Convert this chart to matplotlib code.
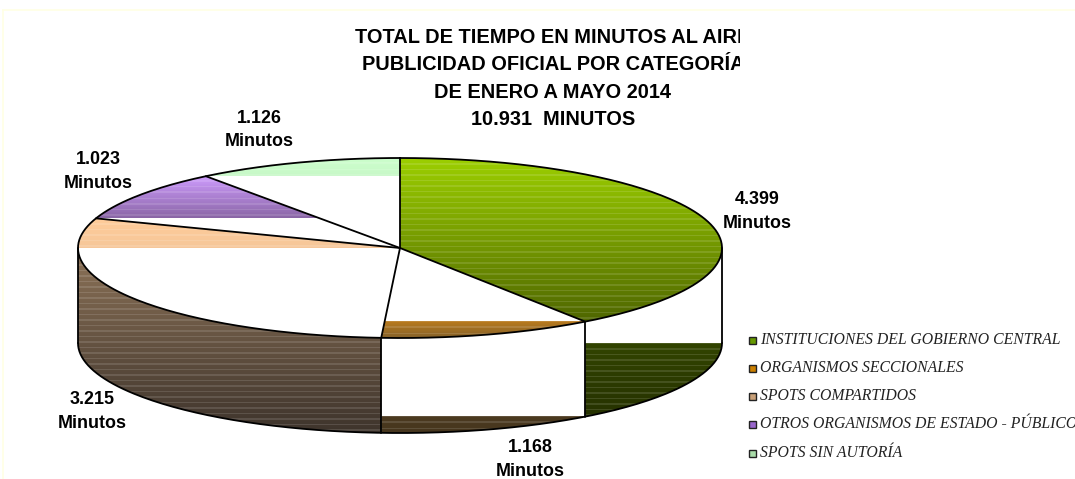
"""Torta 3D de minutos al aire por categoría (enero a mayo 2014)."""

import matplotlib
matplotlib.use("Agg")
import matplotlib.pyplot as plt
from matplotlib.colors import to_rgb
from matplotlib.patches import PathPatch, Rectangle
from matplotlib.path import Path
import numpy as np

plt.rcParams['font.family'] = ['Liberation Sans', 'DejaVu Sans']

# ── datos ──────────────────────────────────────────────────────────────────
categorias = [
    "INSTITUCIONES DEL GOBIERNO CENTRAL",
    "ORGANISMOS SECCIONALES",
    "SPOTS COMPARTIDOS",
    "OTROS ORGANISMOS DE ESTADO - PÚBLICOS",
    "SPOTS SIN AUTORÍA",
]
minutos = [4399, 1168, 3215, 1023, 1126]
etiquetas = ["4.399", "1.168", "3.215", "1.023", "1.126"]
titulo = [
    "TOTAL DE TIEMPO EN MINUTOS AL AIRE",
    "PUBLICIDAD OFICIAL POR CATEGORÍA",
    "DE ENERO A MAYO 2014",
    "10.931  MINUTOS",
]

# ── estilo ─────────────────────────────────────────────────────────────────
CX, CY = 400.0, 248.0
RX, RY = 322.0, 90.0
DEPTH = 95.0

top_cols = [("#9ccf00", "#4f6600"), ("#b87a1e", "#85622a"), ("#ffcc99", "#f6c79a"),
            ("#cf9dff", "#8a66a6"), ("#ccffcc", "#c8f8c8")]
side_cols = [("#324400", "#263200"), ("#4c3a20", "#46361e"), ("#8d7358", "#3e342c"),
             None, None]
legend_cols = ["#669900", "#cc8000", "#c8a078", "#9966cc", "#aaddaa"]
label_pos = [(757, 211), (530, 459), (92, 411), (98, 171), (259, 130)]
legend_y = [340, 368, 396, 424, 453]
title_y = [37, 64, 92, 119]


def arc(a0, a1, dy=0.0, n=120):
    # ángulos en grados, sentido horario desde arriba
    t = np.radians(np.linspace(a0, a1, n))
    return np.column_stack([CX + RX * np.sin(t), CY - RY * np.cos(t) + dy])


def stripes(ax, path, col0, col1, y0, y1):
    """Degradado vertical con rayas horizontales, recortado al path."""
    rows = max(int(round(y1 - y0)), 1)
    c0, c1 = np.array(to_rgb(col0)), np.array(to_rgb(col1))
    f = np.linspace(0, 1, rows)[:, None]
    img = c0 * (1 - f) + c1 * f
    r = np.arange(rows)
    light = np.isin(r * r % 11, (0, 3))[:, None]
    img = np.where(light, img + (1 - img) * 0.12, img)[:, None, :]
    im = ax.imshow(img, extent=(0, 1075, y1, y0), aspect="auto",
                   interpolation="nearest", zorder=2)
    im.set_clip_path(PathPatch(path, transform=ax.transData))


def closed(pts):
    return Path(np.vstack([pts, pts[:1]]))


def main():
    fig = plt.figure(figsize=(10.75, 4.79), dpi=100)
    ax = fig.add_axes([0, 0, 1, 1])
    ax.axis("off")

    # marco amarillo pálido
    ax.plot([3, 1075], [10, 10], color="#ffffe4", lw=1.2, zorder=1)
    ax.plot([3, 3], [10, 479], color="#ffffe4", lw=1.2, zorder=1)

    total = sum(minutos)
    edges = np.concatenate([[0], np.cumsum(minutos) / total * 360.0])

    # caras laterales visibles (entre 90° y 270°)
    for i, col in enumerate(side_cols):
        if col is None:
            continue
        a0, a1 = max(edges[i], 90.0), min(edges[i + 1], 270.0)
        upper, lower = arc(a0, a1), arc(a0, a1, DEPTH)
        path = closed(np.vstack([upper, lower[::-1]]))
        y0 = upper[:, 1].min() if i == 2 else lower[:, 1].min()
        stripes(ax, path, col[0], col[1], y0, lower[:, 1].max())

    # caras superiores
    for i, col in enumerate(top_cols):
        rim = arc(edges[i], edges[i + 1])
        path = closed(np.vstack([[[CX, CY]], rim]))
        y0 = min(rim[0, 1], rim[-1, 1])
        y1 = max(rim[0, 1], rim[-1, 1])
        if i == 0:
            y0 = rim[:, 1].min()
        if i == 2:
            y1 = CY
        stripes(ax, path, col[0], col[1], y0, y1)

    # contornos
    line = dict(color="black", lw=1.3, zorder=4, solid_capstyle="round")
    ell = arc(0, 360, n=400)
    ax.plot(ell[:, 0], ell[:, 1], **line)
    low = arc(90, 270, DEPTH, n=200)
    ax.plot(low[:, 0], low[:, 1], **line)
    for x in (CX + RX, CX - RX):
        ax.plot([x, x], [CY, CY + DEPTH], **line)
    for a in edges[:-1]:
        p = arc(a, a, n=1)[0]
        ax.plot([CX, p[0]], [CY, p[1]], **line)
        if 90 < a < 270:
            ax.plot([p[0], p[0]], [p[1], p[1] + DEPTH], **line)

    ax.set_xlim(0, 1075)
    ax.set_ylim(479, 0)

    # título, cortado a la derecha como en el original
    clip = Rectangle((0, 0), 740, 479, transform=ax.transData)
    for y, s in zip(title_y, titulo):
        t = ax.text(553, y, s, ha="center", va="center", fontsize=14.4,
                    fontweight="bold", color="black", zorder=5)
        t.set_clip_path(clip)
        t.set_clip_on(True)

    # etiquetas
    for (x, y), s in zip(label_pos, etiquetas):
        ax.text(x, y - 12, s, ha="center", va="center", fontsize=12.9,
                fontweight="bold", zorder=5)
        ax.text(x, y + 12, "Minutos", ha="center", va="center", fontsize=12.9,
                fontweight="bold", zorder=5, clip_on=True)

    # leyenda
    for y, s, c in zip(legend_y, categorias, legend_cols):
        ax.add_patch(Rectangle((749, y - 3.5), 7, 7, facecolor=c,
                               edgecolor="#222222", lw=1.0, zorder=5))
        ax.text(760, y, s, ha="left", va="center", fontsize=11.3, style="italic",
                family=["Liberation Serif", "DejaVu Serif"], color="#222222",
                zorder=5, clip_on=True)

    fig.savefig("out.png", dpi=100, facecolor="white")
    plt.close(fig)


if __name__ == "__main__":
    main()
